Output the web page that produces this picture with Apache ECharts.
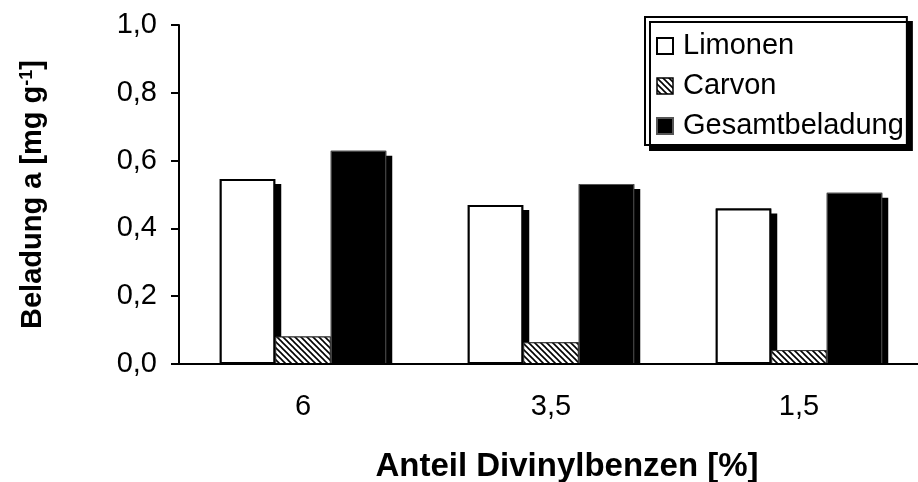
<!DOCTYPE html>
<html><head><meta charset="utf-8">
<script src="https://cdn.jsdelivr.net/npm/echarts@6/dist/echarts.min.js"></script>
<style>html,body{margin:0;padding:0;background:#fff}#c{width:918px;height:482px}</style>
</head><body><div id="c"></div>
<script>
const categories = ['6', '3,5', '1,5'];
const limonen = [0.546, 0.469, 0.459];
const carvon = [0.081, 0.064, 0.041];
const gesamt = [0.629, 0.531, 0.505];
const yTicks = ['0,0', '0,2', '0,4', '0,6', '0,8', '1,0'];
const seriesNames = ['Limonen', 'Carvon', 'Gesamtbeladung'];

const FONT = 'Liberation Sans, Arial, sans-serif';

// hatch pattern (diagonal "\\" stripes)
const pc = document.createElement('canvas');
pc.width = 6; pc.height = 6;
const g = pc.getContext('2d');
g.fillStyle = '#fff'; g.fillRect(0, 0, 6, 6);
g.strokeStyle = '#000'; g.lineWidth = 1.6;
for (let k = -1; k <= 1; k++) {
  g.beginPath(); g.moveTo(k * 6 - 1, -1); g.lineTo(k * 6 + 7, 7); g.stroke();
}
const hatch = { image: pc, repeat: 'repeat' };

const BW = 55.5;
const datasets = [limonen, carvon, gesamt];

// shadow series (drawn first, on a twin axis pair with identical layout)
const shadowSeries = datasets.map((d, i) => ({
  name: '_shadow' + i, type: 'bar', data: d, barWidth: BW, barGap: '0%',
  xAxisIndex: 1, yAxisIndex: 1, z: 1, silent: true,
  itemStyle: { color: '#000', shadowColor: '#000', shadowBlur: 0, shadowOffsetX: 6, shadowOffsetY: 5 }
}));

const styles = [
  { color: '#fff', borderColor: '#000', borderWidth: 2 },
  { color: hatch, borderColor: '#333', borderWidth: 1 },
  { color: '#000', borderColor: '#555', borderWidth: 1 }
];
const mainSeries = datasets.map((d, i) => ({
  name: seriesNames[i], type: 'bar', data: d, barWidth: BW, barGap: '0%',
  xAxisIndex: 0, yAxisIndex: 0, z: 2, itemStyle: styles[i]
}));

const chart = echarts.init(document.getElementById('c'), null, { renderer: 'canvas' });
chart.setOption({
  animation: false,
  backgroundColor: '#fff',
  textStyle: { fontFamily: FONT },
  grid: { left: 179, top: 25, bottom: 118, right: -5, containLabel: false, outerBoundsMode: 'none' },
  legend: {
    orient: 'vertical',
    left: 645, top: 17,
    padding: [13, 3, 3, 11],
    icon: 'rect',
    itemWidth: 16, itemHeight: 16, itemGap: 8,
    backgroundColor: '#fff',
    borderColor: '#000', borderWidth: 2, borderRadius: 0,
    shadowColor: '#000', shadowBlur: 0, shadowOffsetX: 5, shadowOffsetY: 5,
    textStyle: { fontSize: 29, lineHeight: 32, color: '#000', fontFamily: FONT, padding: [0, 0, 0, 5] },
    data: [
      { name: 'Limonen', itemStyle: { color: '#fff', borderColor: '#000', borderWidth: 2 } },
      { name: 'Carvon', itemStyle: { color: hatch, borderColor: '#000', borderWidth: 1.5 } },
      { name: 'Gesamtbeladung', itemStyle: { color: '#000' } }
    ]
  },
  xAxis: [{
    type: 'category', data: categories, z: 10,
    axisLine: { onZero: false, lineStyle: { color: '#000', width: 2 } },
    axisTick: { show: false },
    axisLabel: { fontSize: 29, color: '#000', margin: 28, fontFamily: FONT },
    name: 'Anteil Divinylbenzen [%]', nameLocation: 'middle', nameGap: 86,
    nameTextStyle: { fontSize: 33, fontWeight: 'bold', color: '#000', fontFamily: FONT, padding: [0, 0, 0, 32] }
  }, {
    type: 'category', data: categories, position: 'bottom', offset: 6, z: 9,
    axisLine: { onZero: false, lineStyle: { color: '#fff', width: 10 } },
    axisTick: { show: false }, axisLabel: { show: false }
  }],
  yAxis: [{
    type: 'value', min: 0, max: 1, interval: 0.2, z: 10,
    splitLine: { show: false },
    axisLine: { show: true, lineStyle: { color: '#000', width: 2 } },
    axisTick: { show: true, length: 8, lineStyle: { color: '#000', width: 2 } },
    axisLabel: {
      fontSize: 29, color: '#000', margin: 22, fontFamily: FONT,
      formatter: v => yTicks[Math.round(v / 0.2)]
    },
    name: 'Beladung a [mg g{sup|-1}]', nameLocation: 'middle', nameGap: 132,
    nameTextStyle: {
      fontSize: 29, fontWeight: 'bold', color: '#000', fontFamily: FONT,
      rich: { sup: { fontSize: 18, fontWeight: 'bold', verticalAlign: 'top', color: '#000', fontFamily: FONT } }
    }
  }, {
    type: 'value', min: 0, max: 1, interval: 0.2, show: false
  }],
  series: shadowSeries.concat(mainSeries)
});
</script></body></html>
